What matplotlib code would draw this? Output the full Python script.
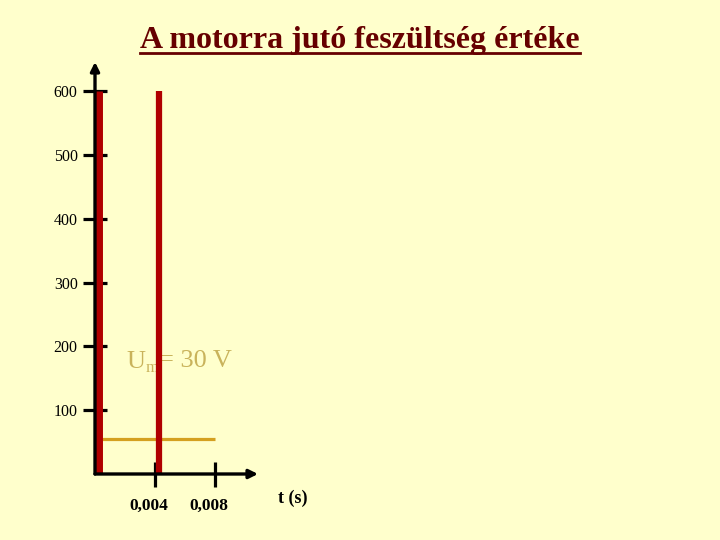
import matplotlib.pyplot as plt
import matplotlib.transforms as mtransforms

plt.rcParams['font.family'] = ['Liberation Serif', 'DejaVu Serif']

# adatok
title = 'A motorra jutó feszültség értéke'
y_ticks = [100, 200, 300, 400, 500, 600]
x_ticks = [0.004, 0.008]
x_tick_labels = ['0,004', '0,008']
pulse_t = [0.00025, 0.00427]      # impulzusok ideje (s)
pulse_u = [600, 600]              # impulzus csúcsértéke
pulse_w = [5.0, 4.5]
mean_t = [0.0, 0.008]
mean_u = [55, 55]                 # középérték vonal

bg = '#FFFFCC'
fig = plt.figure(figsize=(7.2, 5.4), dpi=100, facecolor=bg)
ax = fig.add_axes([95 / 720, 66 / 540, (258 - 95) / 720, (474 - 62) / 540])
ax.set_facecolor(bg)
ax.set_xlim(0, 0.01087)
ax.set_ylim(0, 646)

for s in ax.spines.values():
    s.set_visible(False)

# tengelyek nyíllal
ax.annotate('', xy=(0, 1), xytext=(0, 0), xycoords='axes fraction',
            arrowprops=dict(arrowstyle='-|>', lw=2.4, color='black',
                            mutation_scale=13, shrinkA=0, shrinkB=0), zorder=5)
ax.annotate('', xy=(1, 0), xytext=(0, 0), xycoords='axes fraction',
            arrowprops=dict(arrowstyle='-|>', lw=2.4, color='black',
                            mutation_scale=13, shrinkA=0, shrinkB=0), zorder=5)

ax.set_yticks(y_ticks)
ax.set_yticklabels([str(v) for v in y_ticks], fontsize=11.5)
ax.set_xticks(x_ticks)
ax.set_xticklabels(x_tick_labels, fontsize=12.5, fontweight='bold')
ax.tick_params(axis='y', direction='inout', length=17, width=2.3, pad=4)
ax.tick_params(axis='x', direction='inout', length=18, width=2.3, pad=8)
off = mtransforms.ScaledTranslation(-6 / 100, 0, fig.dpi_scale_trans)
for lbl in ax.get_xticklabels():
    lbl.set_transform(lbl.get_transform() + off)

# középérték szöveg és vonal
gold_txt = '#C9B35B'
t_u = ax.text(0.00212, 166, 'U', fontsize=19, color=gold_txt, zorder=1,
              va='baseline')
t_m = ax.annotate('m', xy=(1, 0), xycoords=t_u, xytext=(0, -2),
                  textcoords='offset points', fontsize=12, color=gold_txt,
                  va='bottom', zorder=1)
ax.annotate('= 30 V', xy=(1, 0), xycoords=t_m, xytext=(0, 3),
            textcoords='offset points', fontsize=19, color=gold_txt,
            va='bottom', zorder=1)
ax.plot(mean_t, mean_u, color='#D4A020', lw=2.3, zorder=2, solid_capstyle='butt')

# impulzusok
ax.vlines(pulse_t, 0, pulse_u, colors='#B00000', linewidth=pulse_w, zorder=3)

fig.text(0.5, 1 - 48 / 540, title, ha='center', va='baseline', fontsize=23,
         fontweight='bold', color='#660000')
fig.add_artist(plt.Line2D([140 / 720, 580 / 720], [1 - 53 / 540, 1 - 53 / 540],
                          color='#660000', lw=2))

fig.text(293 / 720, 1 - 498 / 540, 't (s)', ha='center', va='center',
         fontsize=13, fontweight='bold')

fig.savefig('out.png', dpi=100, facecolor=bg)
